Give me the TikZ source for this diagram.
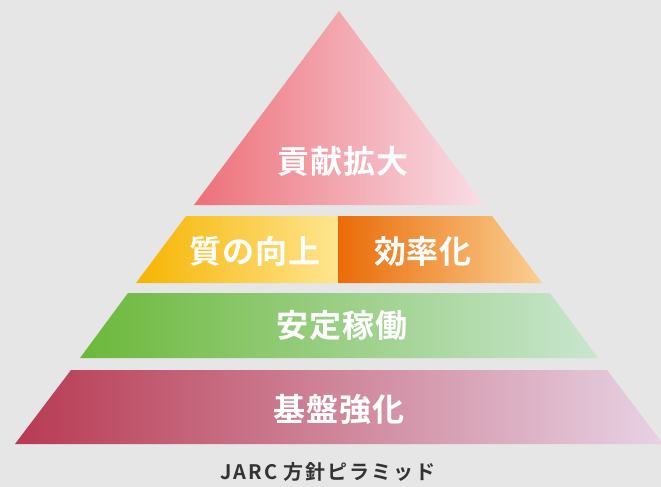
\documentclass[tikz,border=0pt]{standalone}
\usepackage{fontspec}
\setmainfont{Noto Sans CJK JP}
\newfontfamily\jpbold{Noto Sans CJK JP Bold}[LetterSpace=3]
\newfontfamily\capfont{Noto Sans CJK JP Bold}[LetterSpace=10]
\usetikzlibrary{positioning}
\definecolor{bg}{HTML}{E6E6E6}
\definecolor{topL}{HTML}{ED7078}
\definecolor{topR}{HTML}{F9DEE7}
\definecolor{qualL}{HTML}{F5B400}
\definecolor{qualR}{HTML}{FFE590}
\definecolor{effL}{HTML}{EA6C08}
\definecolor{effR}{HTML}{FACF92}
\definecolor{runL}{HTML}{6CB83A}
\definecolor{runR}{HTML}{C9E6D0}
\definecolor{baseL}{HTML}{B73A52}
\definecolor{baseR}{HTML}{E7D2E4}
\definecolor{captxt}{HTML}{333333}

\begin{document}
\begin{tikzpicture}[x=1pt, y=-1pt, every node/.style={inner sep=0pt}, lvl/.style={text=white, font=\jpbold\fontsize{32}{33}\selectfont}, captext/.style={text=captxt, font=\capfont\fontsize{20}{21}\selectfont}]
\fill[bg] (0,0) rectangle (661,487);
\useasboundingbox (0,0) rectangle (661,487);
% pyramid layers, top to bottom
\shade[left color=topL, right color=topR] (339,11) -- (484,205) -- (194,205) -- cycle;
\shade[left color=qualL, right color=qualR] (186,216) -- (338,216) -- (338,283) -- (136,283) -- cycle;
\shade[left color=effL, right color=effR] (338,216) -- (492,216) -- (542,283) -- (338,283) -- cycle;
\shade[left color=runL, right color=runR] (128,293) -- (550,293) -- (598,358) -- (80,358) -- cycle;
\shade[left color=baseL, right color=baseR] (71,370) -- (607,370) -- (663,444) -- (15,444) -- cycle;
% labels
\node[lvl] (expand) at (343,161) {貢献拡大};
\node[lvl] (quality) at (255,251) {質の向上};
\node[lvl] (efficiency) at (423,251) {効率化};
\node[lvl] (stable) at (342,325) {安定稼働};
\node[lvl] (base) at (339,409) {基盤強化};
\node[captext] (caption) at (328,472) {JARC 方針ピラミッド};
\end{tikzpicture}
\end{document}
